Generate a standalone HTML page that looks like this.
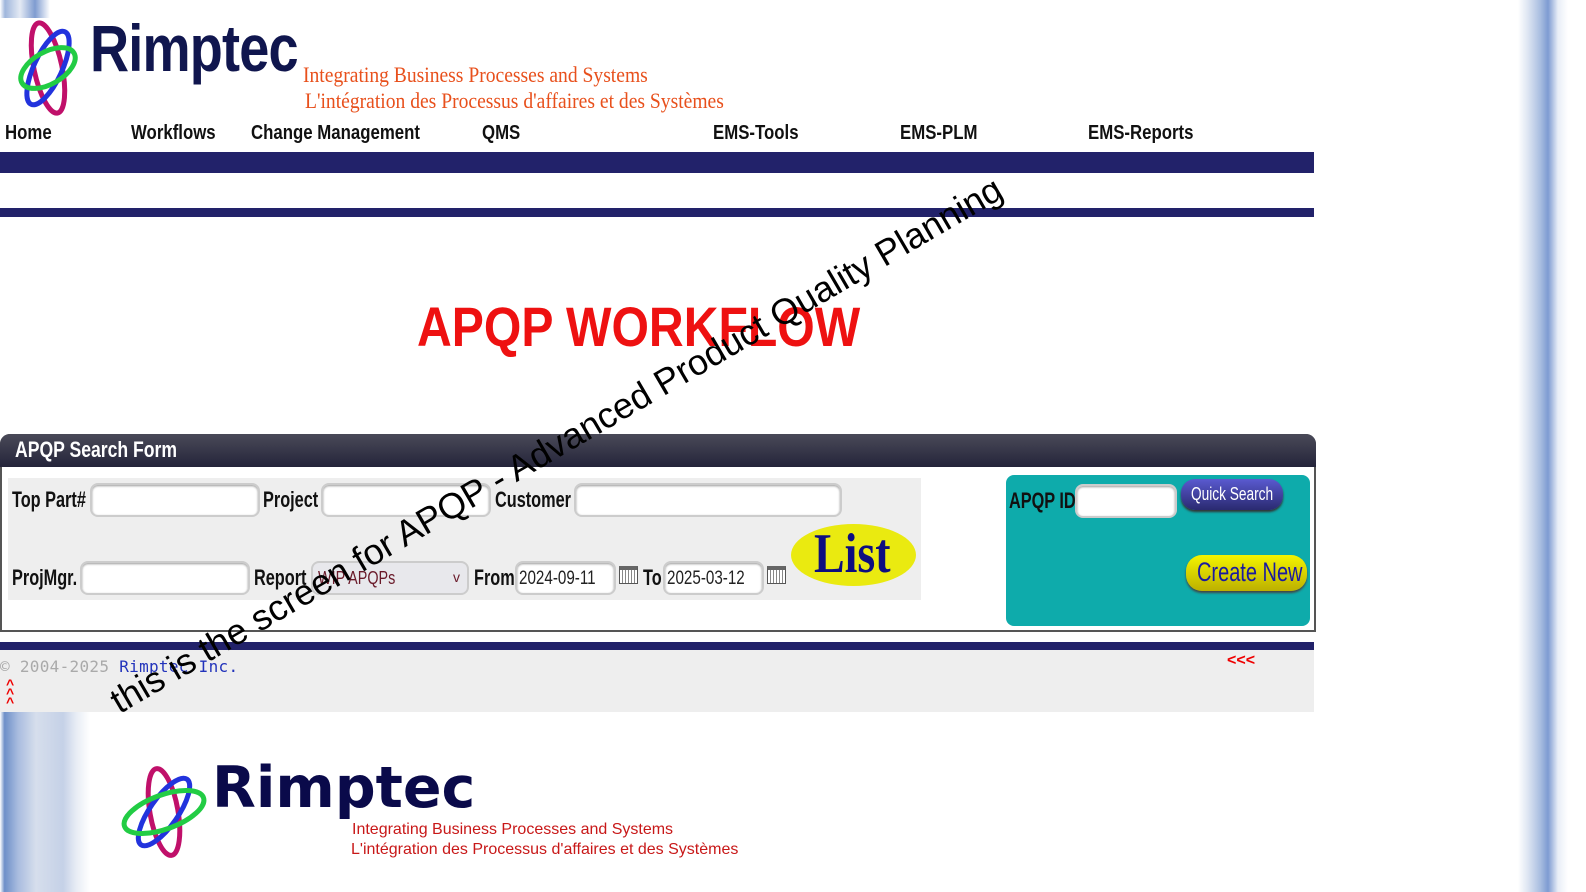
<!DOCTYPE html>
<html><head><meta charset="utf-8"><style>
*{margin:0;padding:0;box-sizing:border-box}
body{width:1586px;height:892px;position:relative;overflow:hidden;background:#fff;font-family:"Liberation Sans",sans-serif}
.a{position:absolute}
.nav{font-family:"Liberation Sans",sans-serif;font-weight:bold;font-size:20px;color:#111;transform:scaleX(.84);transform-origin:left;top:122px;white-space:nowrap}
.lbl{font-weight:bold;font-size:22px;color:#111;transform:scaleX(.74);transform-origin:left;white-space:nowrap}
.inp{background:#fff;border:2px solid #ccc;border-radius:8px;height:34px;box-shadow:inset 0 1px 2px #999}
</style></head><body>
<div class="a" style="left:0;top:0;width:50px;height:18px;background:linear-gradient(90deg,#fff 0,#9fb6dc 10%,#e4eaf4 40%,#7f9cd0 70%,#fff 100%)"></div>
<div class="a" style="left:1518px;top:0;width:50px;height:892px;background:linear-gradient(90deg,#fff 0,#dde5f2 20%,#a8bde0 45%,#7e9bd2 60%,#e9eef7 80%,#fff 100%)"></div>
<div class="a" style="left:0;top:712px;width:90px;height:180px;background:linear-gradient(90deg,#fff 0,#6d8fc8 5%,#a9bcdf 20%,#d6deec 40%,#c5d1e7 70%,#e8edf5 85%,#fff 100%)"></div>

<svg class="a" style="left:12px;top:18px" width="72" height="100" viewBox="0 0 72 100">
<ellipse cx="36" cy="50" rx="14" ry="46" fill="none" stroke="#c0106a" stroke-width="5" transform="rotate(-12 36 50)"/>
<ellipse cx="36" cy="50" rx="14" ry="40" fill="none" stroke="#2233dd" stroke-width="5" transform="rotate(25 36 50)"/>
<ellipse cx="36" cy="50" rx="30" ry="16" fill="none" stroke="#22cc44" stroke-width="5" transform="rotate(-30 36 50)"/>
</svg>
<div class="a" style="left:90px;top:10px;font-size:66px;font-weight:bold;color:#10164e;transform:scaleX(.82);transform-origin:left;letter-spacing:-1px">Rimptec</div>
<div class="a" style="left:303px;top:62px;font-family:'Liberation Serif',serif;font-size:22px;color:#e8501c;transform:scaleX(.89);transform-origin:left;white-space:nowrap">Integrating Business Processes and Systems</div>
<div class="a" style="left:305px;top:88px;font-family:'Liberation Serif',serif;font-size:22px;color:#e8501c;transform:scaleX(.89);transform-origin:left;white-space:nowrap">L'intégration des Processus d'affaires et des Systèmes</div>

<div class="a nav" style="left:5px">Home</div>
<div class="a nav" style="left:131px">Workflows</div>
<div class="a nav" style="left:251px">Change Management</div>
<div class="a nav" style="left:482px">QMS</div>
<div class="a nav" style="left:713px">EMS-Tools</div>
<div class="a nav" style="left:900px">EMS-PLM</div>
<div class="a nav" style="left:1088px">EMS-Reports</div>

<div class="a" style="left:0;top:152px;width:1314px;height:21px;background:#22226a"></div>
<div class="a" style="left:0;top:208px;width:1314px;height:9px;background:#22226a"></div>

<div class="a" style="left:417px;top:294px;font-size:56px;font-weight:bold;color:#ee1111;transform:scaleX(.86);transform-origin:left;white-space:nowrap">APQP WORKFLOW</div>

<div class="a" style="left:0;top:434px;width:1316px;height:198px;border:2px solid #555;border-radius:10px 10px 0 0;background:#fff"></div>
<div class="a" style="left:0;top:434px;width:1316px;height:33px;background:linear-gradient(#4a4a58,#24243a);border-radius:10px 10px 0 0"></div>
<div class="a" style="left:15px;top:437px;font-weight:bold;font-size:22px;color:#fff;transform:scaleX(.8);transform-origin:left;white-space:nowrap">APQP Search Form</div>
<div class="a" style="left:8px;top:478px;width:913px;height:122px;background:#eeeeee"></div>

<div class="a lbl" style="left:12px;top:487px">Top Part#</div>
<div class="a inp" style="left:90px;top:483px;width:170px"></div>
<div class="a lbl" style="left:263px;top:487px">Project</div>
<div class="a inp" style="left:321px;top:483px;width:170px"></div>
<div class="a lbl" style="left:495px;top:487px">Customer</div>
<div class="a inp" style="left:574px;top:483px;width:268px"></div>

<div class="a lbl" style="left:12px;top:565px">ProjMgr.</div>
<div class="a inp" style="left:80px;top:561px;width:170px"></div>
<div class="a lbl" style="left:254px;top:565px">Report</div>
<div class="a" style="left:311px;top:561px;width:158px;height:34px;background:#e8e8ec;border:2px solid #ccc;border-radius:8px"></div>
<div class="a" style="left:318px;top:568px;font-size:18px;color:#6a1a2a;transform:scaleX(.8);transform-origin:left">WIP APQPs</div>
<div class="a" style="left:453px;top:569px;font-size:14px;color:#6a1a2a">v</div>
<div class="a lbl" style="left:474px;top:565px">From</div>
<div class="a inp" style="left:515px;top:561px;width:101px"></div>
<div class="a" style="left:519px;top:568px;font-size:19px;color:#222;transform:scaleX(.8);transform-origin:left">2024-09-11</div>
<div class="a" style="left:619px;top:566px;width:19px;height:18px;border:1px solid #555;background:repeating-linear-gradient(90deg,#fff 0 2px,#888 2px 3px);border-top:4px solid #666"></div>
<div class="a lbl" style="left:643px;top:565px">To</div>
<div class="a inp" style="left:663px;top:561px;width:101px"></div>
<div class="a" style="left:667px;top:568px;font-size:19px;color:#222;transform:scaleX(.8);transform-origin:left">2025-03-12</div>
<div class="a" style="left:767px;top:566px;width:19px;height:18px;border:1px solid #555;background:repeating-linear-gradient(90deg,#fff 0 2px,#888 2px 3px);border-top:4px solid #666"></div>

<div class="a" style="left:791px;top:524px;width:125px;height:62px;border-radius:50%;background:#eaea10"></div>
<div class="a" style="left:814px;top:522px;font-family:'Liberation Serif',serif;font-weight:bold;font-size:56px;color:#0d0d80;transform:scaleX(.82);transform-origin:left">List</div>

<div class="a" style="left:1006px;top:475px;width:304px;height:151px;background:#0eabab;border-radius:8px"></div>
<div class="a lbl" style="left:1009px;top:488px">APQP ID</div>
<div class="a inp" style="left:1075px;top:484px;width:102px"></div>
<div class="a" style="left:1181px;top:479px;width:102px;height:31px;border-radius:14px;background:linear-gradient(#5a5ad0,#2a2a70);box-shadow:0 2px 2px #333"></div>
<div class="a" style="left:1191px;top:484px;font-size:18px;color:#fff;transform:scaleX(.76);transform-origin:left;white-space:nowrap">Quick Search</div>
<div class="a" style="left:1186px;top:555px;width:121px;height:36px;border-radius:16px;background:linear-gradient(#f4f400,#bcb000);box-shadow:0 2px 2px #444"></div>
<div class="a" style="left:1197px;top:557px;font-size:27px;color:#1a1aa0;transform:scaleX(.74);transform-origin:left;white-space:nowrap">Create New</div>

<div class="a" style="left:0;top:642px;width:1314px;height:8px;background:#22226a"></div>
<div class="a" style="left:0;top:650px;width:1314px;height:62px;background:#eeeeee"></div>
<div class="a" style="left:0;top:657px;font-family:'DejaVu Sans Mono',monospace;font-size:16px;color:#aaa;white-space:nowrap;letter-spacing:.3px">© 2004-2025 <span style="color:#2233bb">Rimptec Inc.</span></div>
<div class="a" style="left:6px;top:680px;font-size:14px;line-height:9px;color:#e00;font-weight:bold">^<br>^<br>^</div>
<div class="a" style="left:1227px;top:652px;font-size:16px;font-weight:bold;color:#e00">&lt;&lt;&lt;</div>

<svg class="a" style="left:118px;top:765px" width="92" height="95" viewBox="0 0 92 95">
<ellipse cx="46" cy="47" rx="14" ry="44" fill="none" stroke="#c0106a" stroke-width="5" transform="rotate(-10 46 47)"/>
<ellipse cx="46" cy="47" rx="14" ry="40" fill="none" stroke="#2233dd" stroke-width="5" transform="rotate(35 46 47)"/>
<ellipse cx="46" cy="47" rx="42" ry="17" fill="none" stroke="#22cc44" stroke-width="5" transform="rotate(-20 46 47)"/>
</svg>
<div class="a" style="left:212px;top:755px;font-family:'DejaVu Sans',sans-serif;font-weight:bold;font-size:57px;color:#0a0a4a;white-space:nowrap">Rimptec</div>
<div class="a" style="left:352px;top:821px;font-size:16px;color:#c81818;white-space:nowrap">Integrating Business Processes and Systems</div>
<div class="a" style="left:351px;top:841px;font-size:16px;color:#c81818;white-space:nowrap">L'intégration des Processus d'affaires et des Systèmes</div>

<div class="a" style="left:124px;top:680px;font-size:36px;color:#000;white-space:nowrap;transform:rotate(-30.3deg);transform-origin:left bottom">this is the screen for APQP - Advanced Product Quality Planning</div>
</body></html>
